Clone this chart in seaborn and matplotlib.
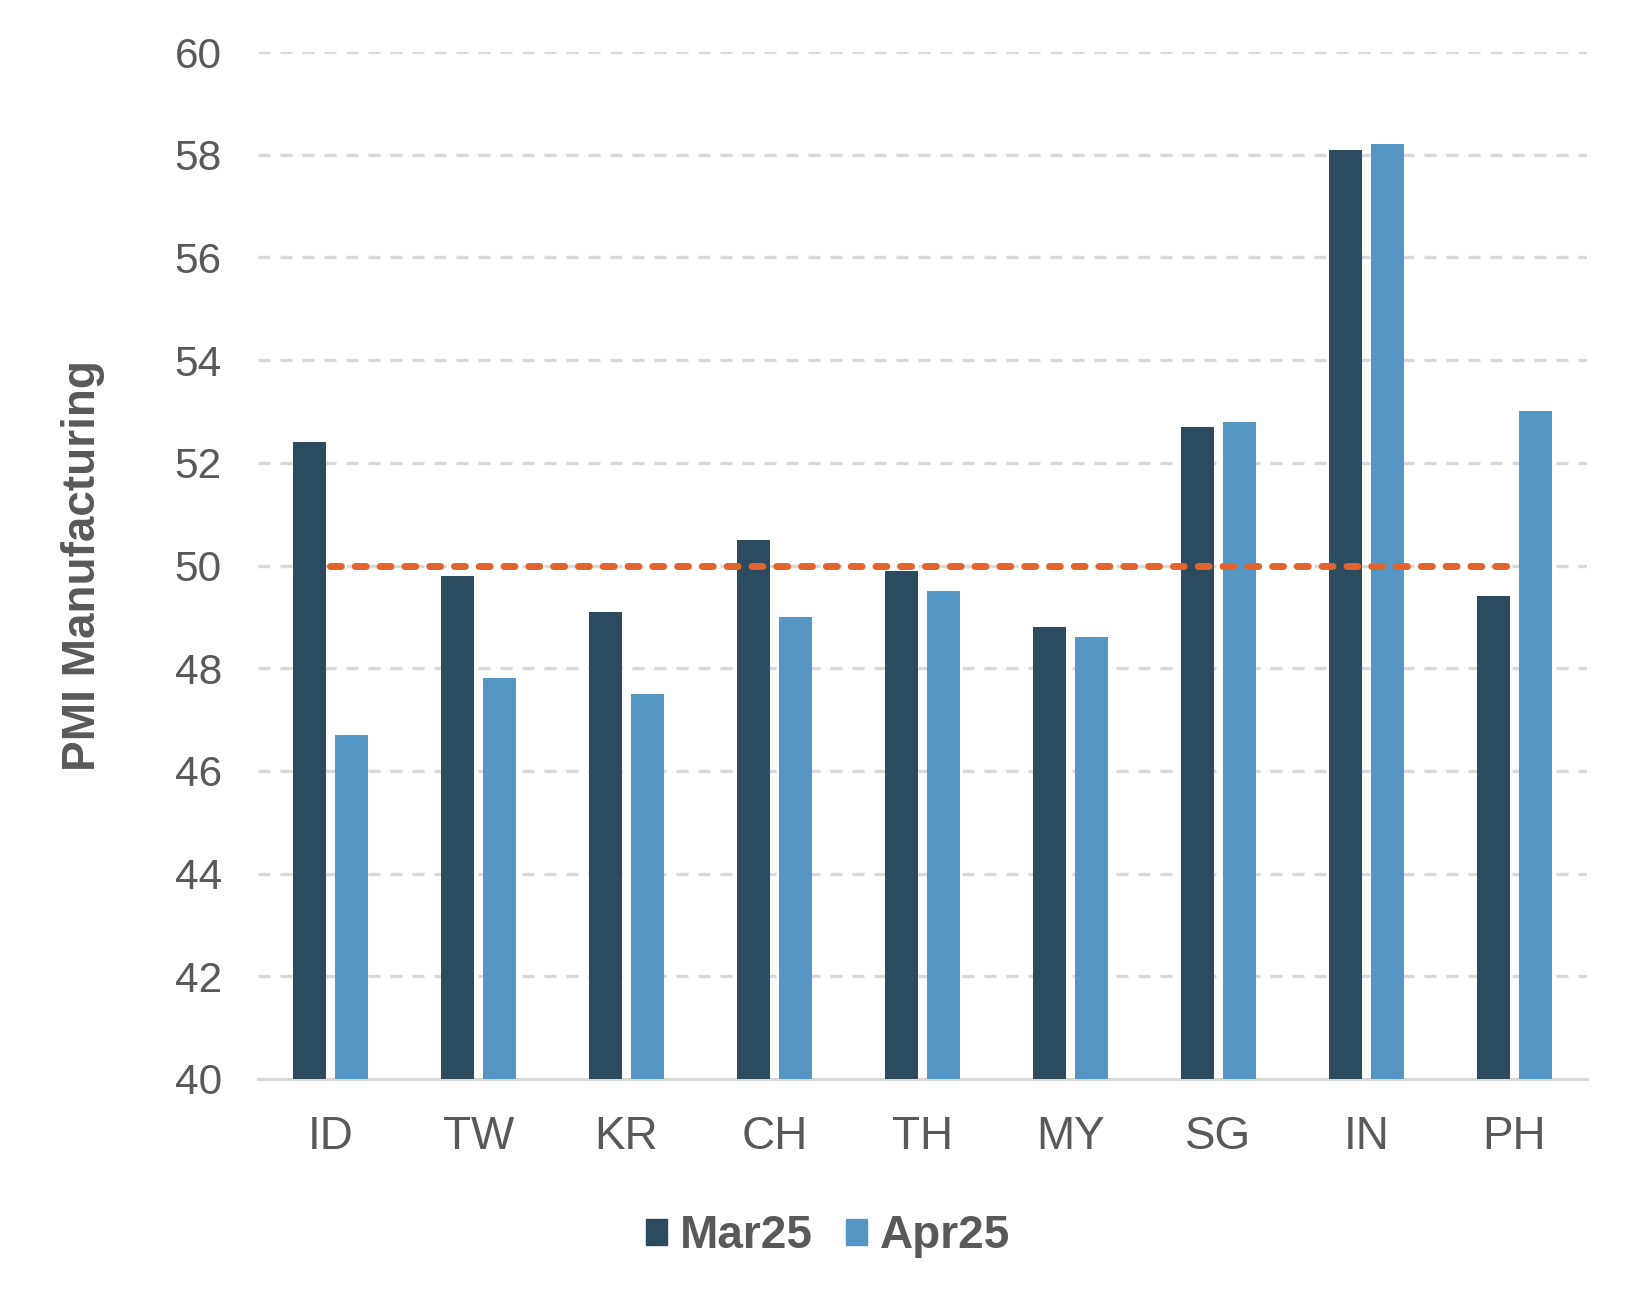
import matplotlib
matplotlib.use('Agg')
import matplotlib.pyplot as plt
import matplotlib.patches as mpatches
import pandas as pd
import seaborn as sns

# Data
countries = ['ID', 'TW', 'KR', 'CH', 'TH', 'MY', 'SG', 'IN', 'PH']
mar25 = [52.4, 49.8, 49.1, 50.5, 49.9, 48.8, 52.7, 58.1, 49.4]
apr25 = [46.7, 47.8, 47.5, 49.0, 49.5, 48.6, 52.8, 58.2, 53.0]
series_names = ['Mar25', 'Apr25']
threshold = 50
y_ticks = [40, 42, 44, 46, 48, 50, 52, 54, 56, 58, 60]

dark = '#2C4B5E'
light = '#5497C4'
orange = '#E2632C'
text_col = '#595959'
grid_col = '#D9D9D9'

sns.set_style('white')
plt.rcParams['font.family'] = ['Liberation Sans', 'DejaVu Sans']

df = pd.DataFrame({
    'country': countries * 2,
    'value': mar25 + apr25,
    'month': [series_names[0]] * len(countries) + [series_names[1]] * len(countries),
})

fig = plt.figure(figsize=(16.41, 13), dpi=100)
ax = fig.add_axes([0.1572, 0.17, 0.8099, 0.79])

sns.barplot(data=df, x='country', y='value', hue='month', order=countries,
            hue_order=series_names, palette=[dark, light], width=0.568, gap=0.215,
            linewidth=0, saturation=1, legend=False, ax=ax, zorder=2)

# 50 threshold line
ax.plot([0, len(countries) - 1], [threshold, threshold], color=orange, lw=5,
        linestyle=(0, (1.57, 2.0)), dash_capstyle='round', zorder=3)

ax.set_ylim(40, 60)
ax.set_xlim(-0.49, len(countries) - 0.51)
ax.set_yticks(y_ticks)
ax.yaxis.grid(True, color=grid_col, lw=2.4, linestyle=(0, (3.6, 3.0)), zorder=0)
ax.set_axisbelow(True)

for s in ['top', 'right', 'left']:
    ax.spines[s].set_visible(False)
ax.spines['bottom'].set_color(grid_col)
ax.spines['bottom'].set_linewidth(2.2)
ax.spines['bottom'].set_zorder(1)

ax.tick_params(axis='y', length=0, pad=26, labelsize=30.5, labelcolor=text_col)
ax.tick_params(axis='x', length=0, pad=26, labelsize=33, labelcolor=text_col)
ax.set_xlabel('')
ax.set_ylabel('PMI Manufacturing', fontsize=33, fontweight='bold', color=text_col)
ax.yaxis.label.set_va('center')
ax.yaxis.set_label_coords(-0.1317, 0.5)

handles = [mpatches.Patch(color=dark, label=series_names[0]),
           mpatches.Patch(color=light, label=series_names[1])]
leg = fig.legend(handles=handles, loc='center', bbox_to_anchor=(828 / 1641, 1 - 1236 / 1300),
                 ncol=2, frameon=False, handlelength=0.46, handleheight=0.5,
                 handletextpad=0.28, columnspacing=0.72,
                 prop={'size': 33, 'weight': 'bold'})
for t in leg.get_texts():
    t.set_color(text_col)

fig.savefig('out.png', dpi=100)
